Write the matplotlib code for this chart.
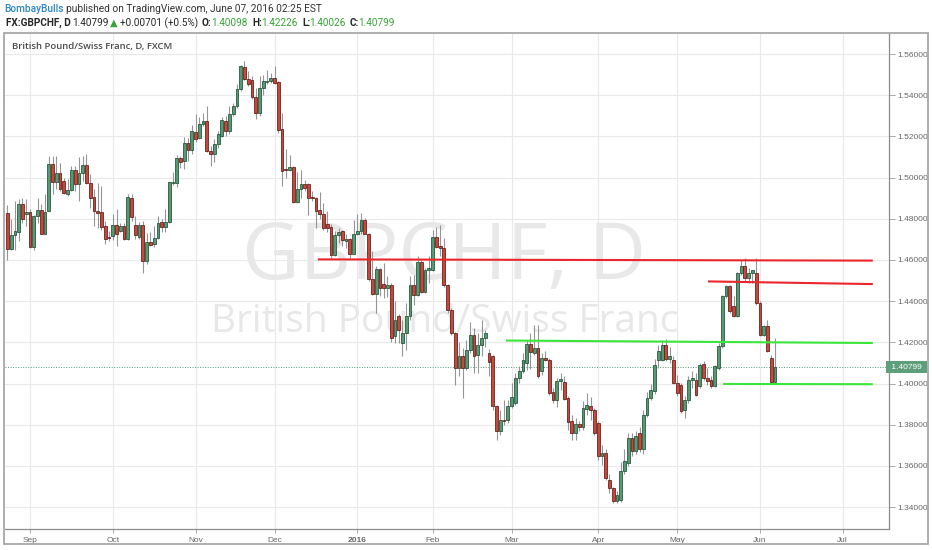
import matplotlib
matplotlib.use("Agg")
import matplotlib.pyplot as plt
import matplotlib.transforms as mtransforms
from matplotlib.patches import Rectangle
import pandas as pd

# ---------------- data ----------------
first_day = "2015-08-24"
calendar_end = "2016-07-29"
closed_days = ["2015-12-25", "2016-01-01"]

opens = [
    1.4829, 1.4655, 1.4719, 1.4737, 1.4873, 1.4825, 1.4833, 1.4662, 1.4813, 1.4841,
    1.4727, 1.4840, 1.5065, 1.4980, 1.5020, 1.4984, 1.4922, 1.4938, 1.5036, 1.4967,
    1.5024, 1.5062, 1.4976, 1.4907, 1.4840, 1.4832, 1.4764, 1.4712, 1.4715, 1.4772,
    1.4740, 1.4764, 1.4704, 1.4902, 1.4771, 1.4710, 1.4771, 1.4597, 1.4689, 1.4678,
    1.4707, 1.4783, 1.4758, 1.4783, 1.4973, 1.4973, 1.5093, 1.5082, 1.5166, 1.5133,
    1.5219, 1.5192, 1.5259, 1.5276, 1.5130, 1.5114, 1.5162, 1.5203, 1.5276, 1.5224,
    1.5311, 1.5348, 1.5429, 1.5537, 1.5478, 1.5473, 1.5392, 1.5316, 1.5434, 1.5465,
    1.5471, 1.5484, 1.5465, 1.5238, 1.5044, 1.5039, 1.5050, 1.4881, 1.4946, 1.4967,
    1.4970, 1.4905, 1.4902, 1.4842, 1.4824, 1.4776, 1.4760, 1.4624, 1.4721, 1.4740,
    1.4692, 1.4700, 1.4630, 1.4727, 1.4740, 1.4792, 1.4727, 1.4506, 1.4433, 1.4554,
    1.4485, 1.4465, 1.4479, 1.4229, 1.4326, 1.4196, 1.4245, 1.4326, 1.4479, 1.4431,
    1.4592, 1.4447, 1.4552, 1.4552, 1.4714, 1.4668, 1.4657, 1.4479, 1.4358, 1.4245,
    1.4075, 1.4132, 1.4075, 1.4164, 1.4237, 1.4140, 1.4188, 1.4220, 1.4150, 1.4132,
    1.3889, 1.3768, 1.3824, 1.3824, 1.3889, 1.3905, 1.4026, 1.4059, 1.4100, 1.4194,
    1.4148, 1.4172, 1.4059, 1.4124, 1.4116, 1.3957, 1.3919, 1.4011, 1.4006, 1.3930,
    1.3817, 1.3760, 1.3806, 1.3789, 1.3878, 1.3893, 1.3873, 1.3809, 1.3650, 1.3665,
    1.3534, 1.3493, 1.3429, 1.3437, 1.3574, 1.3615, 1.3736, 1.3671, 1.3760, 1.3683,
    1.3849, 1.3930, 1.3962, 1.4116, 1.4116, 1.4189, 1.4119, 1.4116, 1.4003, 1.3995,
    1.3873, 1.3922, 1.4016, 1.4019, 1.3987, 1.4096, 1.4027, 1.4015, 1.3987, 1.4076,
    1.4181, 1.4423, 1.4472, 1.4375, 1.4329, 1.4536, 1.4569, 1.4512, 1.4536, 1.4536,
    1.4391, 1.4237, 1.4281, 1.4124, 1.40098,
]
highs = [
    1.4867, 1.4797, 1.4886, 1.4894, 1.4899, 1.4894, 1.4846, 1.4820, 1.4902, 1.4870,
    1.4918, 1.5106, 1.5106, 1.5106, 1.5073, 1.5000, 1.4992, 1.5057, 1.5057, 1.5098,
    1.5106, 1.5114, 1.5016, 1.4943, 1.4976, 1.4959, 1.4789, 1.4740, 1.4821, 1.4846,
    1.4781, 1.4781, 1.4919, 1.4919, 1.4815, 1.4783, 1.4791, 1.4729, 1.4734, 1.4767,
    1.4815, 1.4799, 1.4847, 1.4980, 1.5025, 1.5111, 1.5106, 1.5198, 1.5192, 1.5256,
    1.5311, 1.5292, 1.5316, 1.5348, 1.5154, 1.5187, 1.5227, 1.5292, 1.5300, 1.5348,
    1.5364, 1.5453, 1.5547, 1.5566, 1.5518, 1.5494, 1.5437, 1.5494, 1.5500, 1.5524,
    1.5508, 1.5541, 1.5470, 1.5314, 1.5141, 1.5112, 1.5055, 1.5028, 1.5035, 1.4990,
    1.4975, 1.4934, 1.4905, 1.4931, 1.4878, 1.4837, 1.4776, 1.4740, 1.4756, 1.4748,
    1.4727, 1.4708, 1.4792, 1.4821, 1.4829, 1.4805, 1.4730, 1.4643, 1.4570, 1.4562,
    1.4587, 1.4520, 1.4490, 1.4400, 1.4340, 1.4309, 1.4390, 1.4520, 1.4528, 1.4617,
    1.4600, 1.4560, 1.4617, 1.4746, 1.4762, 1.4770, 1.4706, 1.4485, 1.4366, 1.4250,
    1.4204, 1.4172, 1.4212, 1.4301, 1.4269, 1.4245, 1.4309, 1.4261, 1.4170, 1.4140,
    1.3897, 1.3873, 1.3921, 1.3921, 1.4002, 1.4051, 1.4083, 1.4148, 1.4213, 1.4245,
    1.4286, 1.4286, 1.4148, 1.4156, 1.4124, 1.3978, 1.4027, 1.4051, 1.4035, 1.3938,
    1.3849, 1.3833, 1.3817, 1.3914, 1.3954, 1.3935, 1.3881, 1.3817, 1.3700, 1.3680,
    1.3560, 1.3500, 1.3480, 1.3620, 1.3680, 1.3760, 1.3760, 1.3770, 1.3790, 1.3870,
    1.3960, 1.4000, 1.4120, 1.4189, 1.4213, 1.4216, 1.4180, 1.4132, 1.4043, 1.4003,
    1.3938, 1.4035, 1.4059, 1.4051, 1.4100, 1.4108, 1.4075, 1.4035, 1.4092, 1.4197,
    1.4431, 1.4480, 1.4480, 1.4423, 1.4544, 1.4598, 1.4609, 1.4560, 1.4552, 1.4609,
    1.4399, 1.4286, 1.4310, 1.4140, 1.42226,
]
lows = [
    1.4598, 1.4650, 1.4650, 1.4691, 1.4780, 1.4764, 1.4660, 1.4650, 1.4780, 1.4724,
    1.4724, 1.4837, 1.4919, 1.4943, 1.4935, 1.4920, 1.4911, 1.4935, 1.4935, 1.4886,
    1.4984, 1.4967, 1.4854, 1.4764, 1.4756, 1.4748, 1.4678, 1.4690, 1.4699, 1.4667,
    1.4737, 1.4699, 1.4699, 1.4789, 1.4702, 1.4702, 1.4535, 1.4581, 1.4670, 1.4662,
    1.4702, 1.4734, 1.4734, 1.4778, 1.4965, 1.4952, 1.5049, 1.5041, 1.5082, 1.5114,
    1.5171, 1.5187, 1.5251, 1.5122, 1.5057, 1.5074, 1.5146, 1.5198, 1.5203, 1.5214,
    1.5300, 1.5337, 1.5421, 1.5473, 1.5445, 1.5381, 1.5284, 1.5300, 1.5403, 1.5452,
    1.5460, 1.5455, 1.5217, 1.4959, 1.4999, 1.5031, 1.4878, 1.4878, 1.4902, 1.4935,
    1.4818, 1.4886, 1.4756, 1.4797, 1.4748, 1.4737, 1.4611, 1.4619, 1.4684, 1.4666,
    1.4658, 1.4611, 1.4627, 1.4721, 1.4724, 1.4724, 1.4498, 1.4430, 1.4344, 1.4425,
    1.4417, 1.4420, 1.4200, 1.4196, 1.4196, 1.4132, 1.4164, 1.4310, 1.4382, 1.4425,
    1.4440, 1.4440, 1.4487, 1.4545, 1.4657, 1.4617, 1.4470, 1.4343, 1.4237, 1.3994,
    1.4035, 1.3929, 1.4067, 1.4148, 1.4051, 1.4051, 1.4132, 1.4180, 1.4035, 1.3873,
    1.3727, 1.3752, 1.3800, 1.3808, 1.3881, 1.3897, 1.4002, 1.4051, 1.4067, 1.4071,
    1.4140, 1.4027, 1.4043, 1.4108, 1.3946, 1.3906, 1.3886, 1.3970, 1.3922, 1.3776,
    1.3728, 1.3728, 1.3768, 1.3776, 1.3849, 1.3825, 1.3752, 1.3630, 1.3605, 1.3530,
    1.3470, 1.3420, 1.3420, 1.3425, 1.3560, 1.3600, 1.3650, 1.3660, 1.3670, 1.3660,
    1.3840, 1.3920, 1.3950, 1.4075, 1.4108, 1.4108, 1.4100, 1.3999, 1.3938, 1.3857,
    1.3833, 1.3906, 1.3978, 1.3938, 1.3978, 1.4019, 1.3995, 1.3978, 1.3983, 1.4067,
    1.4173, 1.4415, 1.4345, 1.4323, 1.4323, 1.4528, 1.4496, 1.4488, 1.4488, 1.4383,
    1.4229, 1.4229, 1.4151, 1.4003, 1.40026,
]
closes = [
    1.4655, 1.4720, 1.4740, 1.4870, 1.4797, 1.4834, 1.4662, 1.4813, 1.4841, 1.4727,
    1.4833, 1.5065, 1.4980, 1.5020, 1.4943, 1.4927, 1.4938, 1.5036, 1.4967, 1.5024,
    1.5062, 1.4976, 1.4902, 1.4837, 1.4829, 1.4759, 1.4704, 1.4708, 1.4772, 1.4727,
    1.4764, 1.4704, 1.4906, 1.4808, 1.4723, 1.4771, 1.4597, 1.4686, 1.4674, 1.4707,
    1.4778, 1.4758, 1.4783, 1.4977, 1.4977, 1.5095, 1.5078, 1.5166, 1.5133, 1.5227,
    1.5187, 1.5259, 1.5276, 1.5127, 1.5114, 1.5162, 1.5211, 1.5279, 1.5224, 1.5311,
    1.5348, 1.5429, 1.5542, 1.5478, 1.5453, 1.5389, 1.5316, 1.5437, 1.5471, 1.5471,
    1.5484, 1.5460, 1.5233, 1.5031, 1.5039, 1.5050, 1.4883, 1.4946, 1.4967, 1.4951,
    1.4902, 1.4902, 1.4840, 1.4821, 1.4756, 1.4756, 1.4624, 1.4721, 1.4737, 1.4697,
    1.4700, 1.4630, 1.4727, 1.4740, 1.4792, 1.4727, 1.4506, 1.4433, 1.4554, 1.4465,
    1.4465, 1.4480, 1.4220, 1.4309, 1.4261, 1.4245, 1.4326, 1.4479, 1.4431, 1.4592,
    1.4447, 1.4552, 1.4560, 1.4714, 1.4665, 1.4657, 1.4479, 1.4358, 1.4245, 1.4075,
    1.4132, 1.4075, 1.4164, 1.4237, 1.4132, 1.4188, 1.4220, 1.4245, 1.4107, 1.3889,
    1.3768, 1.3824, 1.3816, 1.3889, 1.3937, 1.4026, 1.4059, 1.4116, 1.4194, 1.4152,
    1.4172, 1.4035, 1.4124, 1.4113, 1.3954, 1.3919, 1.4011, 1.4022, 1.3925, 1.3812,
    1.3760, 1.3806, 1.3789, 1.3882, 1.3898, 1.3870, 1.3760, 1.3650, 1.3665, 1.3540,
    1.3493, 1.3429, 1.3461, 1.3574, 1.3623, 1.3736, 1.3671, 1.3744, 1.3683, 1.3849,
    1.3930, 1.3970, 1.4092, 1.4156, 1.4189, 1.4119, 1.4132, 1.4003, 1.3954, 1.3865,
    1.3922, 1.4019, 1.4027, 1.3946, 1.4092, 1.4027, 1.4011, 1.3987, 1.4084, 1.4181,
    1.4423, 1.4472, 1.4350, 1.4329, 1.4536, 1.4569, 1.4512, 1.4536, 1.4550, 1.4391,
    1.4237, 1.4281, 1.4156, 1.4006, 1.40799,
]

month_labels = ["Sep", "Oct", "Nov", "Dec", "2016", "Feb", "Mar", "Apr", "May", "Jun", "Jul"]
month_first_days = ["2015-09-01", "2015-10-01", "2015-11-02", "2015-12-01", "2016-01-04",
                    "2016-02-01", "2016-03-01", "2016-04-01", "2016-05-02", "2016-06-01",
                    "2016-07-01"]
price_ticks = [1.34, 1.36, 1.38, 1.40, 1.42, 1.44, 1.46, 1.48, 1.50, 1.52, 1.54, 1.56]
last_price = 1.40799

# hand-drawn levels: (start bar, start price, end bar, end price)
resistance_lines = [(82.5, 1.4603, 230.0, 1.4597), (186.2, 1.4496, 230.0, 1.4483)]
support_lines = [(132.5, 1.4209, 230.0, 1.4197), (190.2, 1.3998, 230.0, 1.3997)]

header_user = "BombayBulls"
header_rest = "published on TradingView.com, June 07, 2016 02:25 EST"
chart_title = "British Pound/Swiss Franc, D, FXCM"
watermark_1 = "GBPCHF, D"
watermark_2 = "British Pound/Swiss Franc"

# ---------------- figure ----------------
W, H = 932, 550
fig = plt.figure(figsize=(W / 100, H / 100), dpi=100)
fig.patch.set_facecolor("white")
FONT = ["Open Sans", "DejaVu Sans"]

ax = fig.add_axes([5 / W, 21 / H, 884 / W, 496 / H])
ax.set_facecolor("white")

days = pd.bdate_range(first_day, calendar_end).drop(pd.to_datetime(closed_days))
xs = list(range(len(opens)))

ax.set_xlim(-0.64, 234.3)
ax.set_ylim(1.3294, 1.5702)

# grid
ax.set_yticks(price_ticks)
ax.set_yticklabels([f"{v:.5f}" for v in price_ticks])
month_pos = [days.get_loc(pd.Timestamp(d)) for d in month_first_days]
ax.set_xticks(month_pos)
ax.set_xticklabels(month_labels)
for lab in ax.get_xticklabels():
    if lab.get_text() == "2016":
        lab.set_fontweight("bold")
        lab.set_color("#444444")
ax.grid(True, color="#e9e9e9", linewidth=0.8)
ax.set_axisbelow(True)

ax.yaxis.tick_right()
ax.tick_params(axis="y", direction="out", length=4, width=0.6, color="#9a9a9a",
               labelsize=6, labelcolor="#666666", pad=2)
ax.tick_params(axis="x", direction="out", length=3, width=0.6, color="#9a9a9a",
               labelsize=6, labelcolor="#666666", pad=3)
for lab in ax.get_yticklabels() + ax.get_xticklabels():
    lab.set_family(["Liberation Sans", "DejaVu Sans"])
for side in ["left", "top"]:
    ax.spines[side].set_visible(False)
for side in ["right", "bottom"]:
    ax.spines[side].set_color("#8c8c8c")
    ax.spines[side].set_linewidth(0.9)

# watermark
ax.text(0.497, 0.545, watermark_1, transform=ax.transAxes, ha="center", va="center",
        fontsize=57, color="#e8e8e8", family=FONT, zorder=0)
ax.text(0.497, 0.418, watermark_2, transform=ax.transAxes, ha="center", va="center",
        fontsize=28, color="#e8e8e8", family=FONT, zorder=0)

# candles
up_face, up_edge = "#559a72", "#1f4f33"
dn_face, dn_edge = "#c8473a", "#5b1a13"
ax.vlines(xs, lows, highs, color="#959597", linewidth=0.8, zorder=2)
bottoms = [min(o, c) for o, c in zip(opens, closes)]
heights = [max(abs(c - o), 0.00006) for o, c in zip(opens, closes)]
faces = [up_face if c >= o else dn_face for o, c in zip(opens, closes)]
edges = [up_edge if c >= o else dn_edge for o, c in zip(opens, closes)]
ax.bar(xs, heights, bottom=bottoms, width=0.74, color=faces, edgecolor=edges,
       linewidth=0.55, zorder=3)

# drawn levels
for x0, y0, x1, y1 in resistance_lines:
    ax.plot([x0, x1], [y0, y1], color="#e8262b", linewidth=1.5, zorder=4,
            solid_capstyle="butt")
for x0, y0, x1, y1 in support_lines:
    ax.plot([x0, x1], [y0, y1], color="#39e639", linewidth=1.5, zorder=4,
            solid_capstyle="butt")

# last price line and label
ax.axhline(last_price, color="#4f9e76", linewidth=0.7, linestyle=(0, (1, 1.6)), zorder=1)
blend = mtransforms.blended_transform_factory(ax.transAxes, ax.transData)
ax.text(1.0, last_price, f" {last_price:.5f} ", transform=blend, ha="left", va="center",
        fontsize=6, color="white", family=["Liberation Sans", "DejaVu Sans"],
        bbox=dict(boxstyle="square,pad=0.32", fc="#5e9f7b", ec="none"), zorder=6,
        clip_on=False)

# chart title inside the pane
fig.text(12 / W, 1 - 46.5 / H, chart_title, ha="left", va="center", fontsize=6.8,
         fontweight="semibold", color="#4a4a4a", family=FONT)

# outer frame
fig.patches.append(Rectangle((4 / W, 1 - 544 / H), 924 / W, 511 / H,
                             transform=fig.transFigure, fill=False,
                             edgecolor="#a8a8a8", linewidth=1.3))

# header lines (pieces placed at their left edges, in pixels)
green = "#37a437"
dark = "#262626"
HEAD = ["Roboto", "DejaVu Sans"]


def put(x_px, y_px, s, size, **kw):
    fam = kw.pop("family", HEAD)
    fig.text(x_px / W, 1 - y_px / H, s, ha="left", va="center", fontsize=size,
             family=fam, **kw)


put(4, 8.5, header_user, 7.3, color="#2b86c4", fontweight="medium")
put(66, 8.5, header_rest, 7.3, color="#333333")

line2 = [
    (6, "FX:GBPCHF, D", dict(color=dark, fontweight="bold")),
    (72, "1.40799", dict(color=dark)),
    (109.5, "\u25b2", dict(color=green, family=["DejaVu Sans"])),
    (120, "+0.00701 (+0.5%)", dict(color=dark)),
    (202, "O:", dict(color=dark, fontweight="bold")),
    (211, "1.40098", dict(color=green)),
    (252, "H:", dict(color=dark, fontweight="bold")),
    (261, "1.42226", dict(color=green)),
    (302, "L:", dict(color=dark, fontweight="bold")),
    (309, "1.40026", dict(color=green)),
    (350, "C:", dict(color=dark, fontweight="bold")),
    (358.5, "1.40799", dict(color=green)),
]
for x_px, s, kw in line2:
    put(x_px, 23, s, 7.2, **kw)

fig.savefig("out.png", dpi=100, facecolor="white")
